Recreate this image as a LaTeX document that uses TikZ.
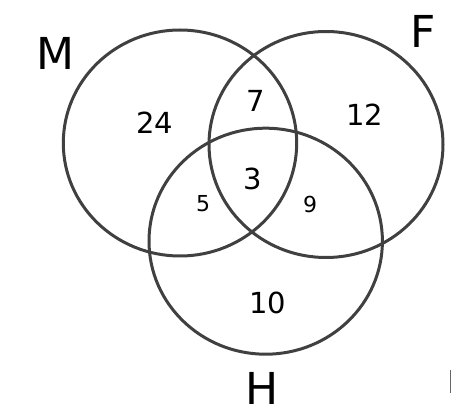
\documentclass[tikz,border=0pt]{standalone}
\usepackage{fontspec}
\setmainfont{DejaVu Sans}
\begin{document}
\begin{tikzpicture}[x=1pt,y=-1pt,
  setline/.style={draw=black!75,line width=3pt},
  setname/.style={font=\fontsize{44}{44}\selectfont,text=black,inner sep=0pt},
  bignum/.style={font=\fontsize{29}{29}\selectfont,text=black,inner sep=0pt},
  smallnum/.style={font=\fontsize{22}{22}\selectfont,text=black,inner sep=0pt}]
\useasboundingbox (0,0) rectangle (451,412);
\draw[setline] (180,143) ellipse [x radius=116.7,y radius=113];
\draw[setline] (326,144.5) ellipse [x radius=117,y radius=113];
\draw[setline] (265.7,241.2) ellipse [x radius=116.7,y radius=113];
\node[setname] (M) at (55,53) {M};
\node[setname] (F) at (423,31) {F};
\node[setname] (H) at (262,388) {H};
\node[bignum] (n24) at (155,123) {24};
\node[bignum] (n7) at (256,101) {7};
\node[bignum] (n12) at (365,115) {12};
\node[bignum] (n3) at (253,179) {3};
\node[smallnum] (n5) at (203,204) {5};
\node[smallnum] (n9) at (310,204) {9};
\node[bignum] (n10) at (268,303) {10};
\coordinate (t1) at (450.5,370);
\coordinate (t2) at (450.5,393);
\draw[black!60,line width=1pt] (t1) -- (t2);
\end{tikzpicture}
\end{document}
